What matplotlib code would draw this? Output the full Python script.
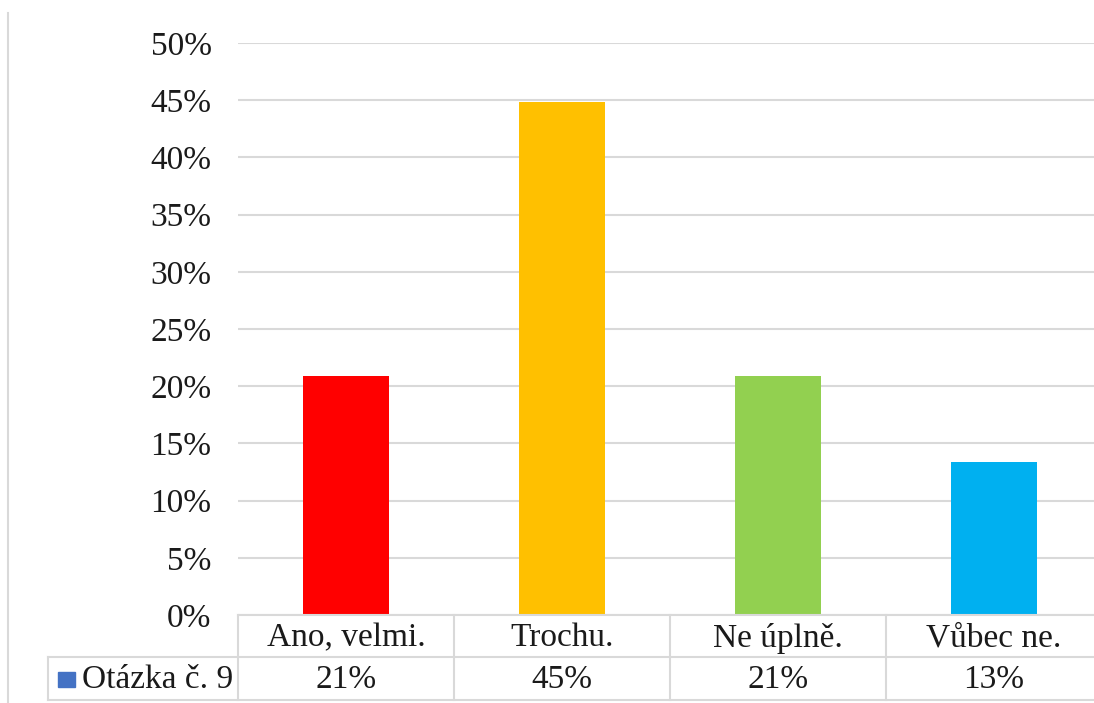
import matplotlib
matplotlib.use("Agg")
import matplotlib.pyplot as plt
from matplotlib.lines import Line2D

categories = ["Ano, velmi.", "Trochu.", "Ne úplně.", "Vůbec ne."]
values = [0.209, 0.448, 0.209, 0.134]
value_labels = ["21%", "45%", "21%", "13%"]
colors = ["#FF0000", "#FFC000", "#92D050", "#00B0F0"]
series_name = "Otázka č. 9"
yticks = [0, 0.05, 0.10, 0.15, 0.20, 0.25, 0.30, 0.35, 0.40, 0.45, 0.50]
ytick_labels = ["0%", "5%", "10%", "15%", "20%", "25%", "30%", "35%", "40%", "45%", "50%"]

W, H = 1094, 703
fig = plt.figure(figsize=(W / 100, H / 100), dpi=100)
plt.rcParams['font.family'] = ['Liberation Serif', 'DejaVu Serif']

ax_left, ax_right, ax_top, ax_bottom = 238, 1102, 43, 615
ax = fig.add_axes([ax_left / W, (H - ax_bottom) / H, (ax_right - ax_left) / W, (ax_bottom - ax_top) / H])
grid_c = "#D9D9D9"
ax.bar(range(len(categories)), values, width=0.4, color=colors, zorder=3)
ax.set_xlim(-0.5, len(categories) - 0.5)
ax.set_ylim(0, 0.5)
ax.set_yticks(yticks)
ax.set_yticklabels(ytick_labels, fontsize=24, color="#1a1a1a")
ax.tick_params(axis="y", length=0, pad=19)
ax.set_xticks([])
for s in ax.spines.values():
    s.set_visible(False)
ax.yaxis.grid(True, color=grid_c, linewidth=1.5, zorder=0)
ax.set_axisbelow(True)

def fx(px):
    return px / W
def fy(py):
    return 1 - py / H

col_w = (ax_right - ax_left) / len(categories)
row1_top, row_mid, row_bot = 615, 657, 700
leg_left = 48

def hline(x0, x1, y):
    fig.add_artist(Line2D([fx(x0), fx(x1)], [fy(y), fy(y)], color=grid_c, lw=1.5))
def vline(x, y0, y1):
    fig.add_artist(Line2D([fx(x), fx(x)], [fy(y0), fy(y1)], color=grid_c, lw=1.5))

hline(ax_left, W, row1_top)
hline(leg_left, W, row_mid)
hline(leg_left, W, row_bot)
vline(leg_left, row_mid, row_bot)
for i in range(len(categories) + 1):
    vline(ax_left + i * col_w, row1_top, row_bot)

# chart border (left edge)
vline(8, 13, H)

for i, (c, v) in enumerate(zip(categories, value_labels)):
    cx = ax_left + (i + 0.5) * col_w
    fig.text(fx(cx), fy((row1_top + row_mid) / 2 + 2), c, ha="center", va="center", fontsize=24, color="#1a1a1a")
    fig.text(fx(cx), fy((row_mid + row_bot) / 2 + 1), v, ha="center", va="center", fontsize=24, color="#1a1a1a")

fig.add_artist(plt.Rectangle((fx(58), fy(687)), fx(75) - fx(58), fy(672) - fy(687), color="#4472C4"))
fig.text(fx(82), fy((row_mid + row_bot) / 2 + 1), series_name, ha="left", va="center", fontsize=24, color="#1a1a1a")

fig.savefig("out.png", dpi=100)
